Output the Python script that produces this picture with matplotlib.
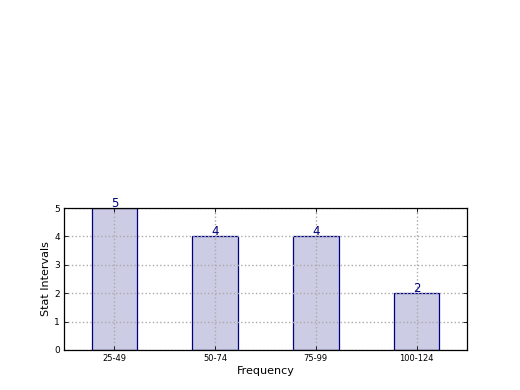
import matplotlib
matplotlib.use("Agg")
import matplotlib.pyplot as plt
import numpy as np

# Data
intervals = ["25-49", "50-74", "75-99", "100-124"]
counts = [5, 4, 4, 2]

fig = plt.figure(figsize=(5.2, 3.9), dpi=100)
ax = fig.add_axes([0.123, 0.1026, 0.775, 0.364])

x = np.arange(len(intervals))
ax.bar(x, counts, width=0.45, color="#ccccE5", edgecolor="#000080", linewidth=0.9, zorder=1)

for xi, c in zip(x, counts):
    ax.text(xi, c - 0.06, str(c), ha="center", va="bottom", fontsize=8.5, color="#000080", zorder=3)

ax.set_xlim(-0.5, len(intervals) - 0.5)
ax.set_ylim(0, 5)
ax.set_xticks(x)
ax.set_xticklabels(intervals, fontsize=6)
ax.set_yticks(range(0, 6))
ax.tick_params(axis="y", labelsize=6.5)
ax.tick_params(direction="in", top=True, right=True, length=3, width=0.6, pad=3)
ax.grid(True, linestyle=":", color="#aaaaaa", linewidth=1.0, zorder=2)
ax.set_axisbelow(False)

ax.set_xlabel("Frequency", fontsize=8, labelpad=2)
ax.set_ylabel("Stat Intervals", fontsize=8, labelpad=2)

for sp in ax.spines.values():
    sp.set_linewidth(0.9)
    sp.set_zorder(5)

plt.savefig("out.png", dpi=100)
